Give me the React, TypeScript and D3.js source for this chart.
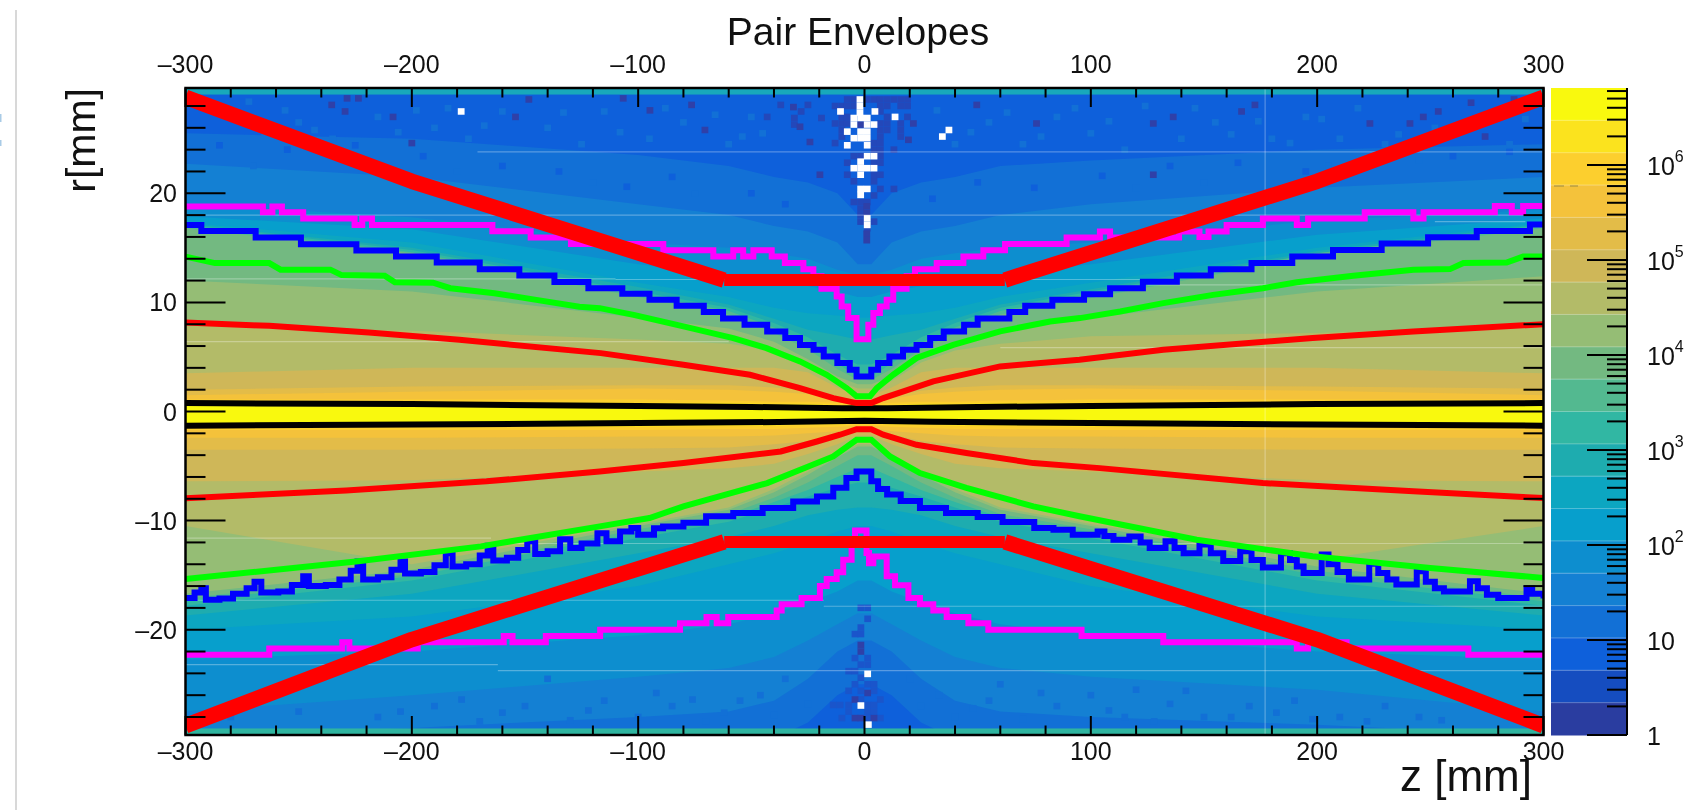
import React from "react";
import * as d3 from "d3";

// palette, top of the colour bar first
const paletteColors = ["#f9f90e","#fbe31e","#fccf2e","#f4c23b","#e3bc48","#cfb758","#b3bb68","#95bd75","#73b981","#53b990","#31b7a3","#1eacaf","#0ca6c1","#079fcc","#0d8ecf","#1480d3","#1270d6","#0e60db","#154dc0","#2a3da0"];

// z positions at which the colour band limits were read
const knotZ = [-300,-200,-100,-60,-40,-25,-12,-3,3,12,25,40,60,100,200,300];

// upper (r>0) limit of each colour band, level numbers follow paletteColors (1-based)
const up17 = [25.5,25,23.5,22.5,21.5,21,20,18,18,20,21,21.5,22.5,23,24,24.5];
const up16 = [22.7,21.5,19,18,17,16.5,15.5,13.5,13.5,15.5,16.5,17,18,19,20.5,21.5];
const up15 = [19,17.8,15.5,15,14.5,14,13,12.5,12.5,13,14,14.5,15,15.5,17.5,18.5];
const up14 = [17.9,16.7,13.5,12.5,12,11.5,11,10.5,10.5,11,11.5,12,12.5,13.5,16.2,17.7];
const up13 = [17.3,15.5,11.8,10.5,9.5,9,8.8,8.6,8.6,8.8,9,9.5,10.5,11.8,15,17.3];
const up12 = [17.2,15,11.4,9.8,8.5,7.5,7,6.6,6.6,7,7.5,8.5,9.8,11.2,14.7,17.2];
const up11 = [17.1,14.8,11,9.5,8.1,6.8,5.2,4.3,4.3,5.2,6.8,8.1,9.5,11,14.5,17.1];
const up10 = [17,14.6,10.8,9.2,7.7,6.3,4.4,3.2,3.2,4.4,6.3,7.7,9.2,10.8,14.5,17];
const up9 = [16.8,14.5,10.5,8.9,7.2,5.7,3.9,2.9,2.9,3.9,5.7,7.2,8.9,10.4,14.3,16.8];
const up8 = [12,11,8.6,7.6,6.4,4.8,3.2,2.5,2.5,3.2,4.8,6.4,7.6,8.6,11,12.4];
const up7 = [7.9,7.4,6.6,6.2,5.6,4.5,2.8,2.1,2.1,2.8,4.5,5.6,6.2,6.9,7.2,7.9];
const up6 = [3.5,4,4,4,4,3.6,2.2,1.5,1.5,2.2,3.6,4,4,4,4,3.5];
const up5 = [2,2.3,2.4,2.4,2.2,1.9,1.4,1.1,1.1,1.4,1.9,2.2,2.4,2.4,2.3,2.1];
const up4 = [1.5,1.8,2.1,2,1.8,1.6,1.2,1,1,1.2,1.6,1.8,2,2.1,1.9,1.5];
const up3 = [1.1,1.1,1.1,1,0.9,0.9,0.8,0.7,0.7,0.8,0.9,0.9,1,1.1,1.1,1.1];
const up2 = [0.9,0.9,0.8,0.8,0.7,0.7,0.6,0.5,0.5,0.6,0.7,0.7,0.8,0.8,0.9,0.9];
const up1 = [0.7,0.7,0.6,0.6,0.5,0.4,0.3,0.2,0.2,0.3,0.4,0.5,0.6,0.6,0.7,0.7];

// lower (r<0) limit of each colour band
const lo17 = [-30,-30,-30,-30,-30,-28.5,-26,-25,-25,-26,-28.5,-30,-30,-30,-30,-30];
const lo16 = [-30,-29,-28,-27.5,-26.5,-24.5,-22,-21,-21,-22,-24.5,-26.5,-27.5,-28,-28.7,-29.7];
const lo15 = [-27.5,-26,-24.3,-23.5,-22.5,-21,-19.5,-18.5,-18.5,-19.5,-21,-22.5,-23.5,-24.3,-25.5,-27.5];
const lo14 = [-22.7,-22,-20.5,-19.5,-18.5,-17.5,-16.5,-15.5,-15.5,-16.5,-17.5,-18.5,-19.5,-20.5,-22,-22.7];
const lo13 = [-20,-18.8,-16,-14,-13,-12,-11,-10.5,-10.5,-11,-12,-13,-14,-16,-18.8,-20];
const lo12 = [-18.7,-16.7,-13,-11.5,-10.5,-9.5,-9,-8.8,-8.8,-9,-9.5,-10.5,-11.5,-13,-16.7,-18.7];
const lo11 = [-17.8,-15.5,-11.6,-10.1,-8.8,-7.8,-7,-6.5,-6.5,-7,-7.8,-8.8,-10.1,-11.6,-15.5,-17.8];
const lo10 = [-17.4,-15.1,-11.1,-9.7,-8.3,-7.2,-6,-5.2,-5.2,-6,-7.2,-8.3,-9.7,-11.1,-15,-17.4];
const lo9 = [-17.1,-14.9,-10.8,-9.4,-7.9,-6.5,-5,-4,-4,-5,-6.5,-7.9,-9.4,-10.8,-14.6,-17.1];
const lo8 = [-16.7,-14.5,-10.5,-9,-7.4,-5.8,-4.2,-3.2,-3.2,-4.2,-5.8,-7.4,-9,-10.5,-14.2,-16.7];
const lo7 = [-10.5,-14,-10.3,-8.8,-7.1,-5.5,-3.9,-3,-3,-3.9,-5.5,-7.1,-8.8,-10.3,-13.6,-10.5];
const lo6 = [-6.4,-6.3,-5.5,-5.2,-4.8,-3.9,-3,-2.2,-2.2,-3,-3.9,-4.8,-5.2,-5.5,-6.3,-6.4];
const lo5 = [-3.5,-3.5,-3.4,-3.3,-3,-2.7,-2.1,-1.8,-1.8,-2.1,-2.7,-3,-3.3,-3.4,-3.5,-3.5];
const lo4 = [-2.4,-2.4,-2.3,-2.3,-2.2,-2,-1.8,-1.5,-1.5,-1.8,-2,-2.2,-2.3,-2.3,-2.4,-2.4];
const lo3 = [-1.7,-1.7,-1.7,-1.6,-1.6,-1.5,-1.4,-1.3,-1.3,-1.4,-1.5,-1.6,-1.6,-1.7,-1.7,-1.7];
const lo2 = [-1.4,-1.4,-1.4,-1.3,-1.3,-1.2,-1.2,-1.1,-1.1,-1.2,-1.2,-1.3,-1.3,-1.4,-1.4,-1.4];
const lo1 = [-1.1,-1.1,-1,-1,-1,-0.9,-0.9,-0.8,-0.8,-0.9,-0.9,-1,-1,-1,-1.1,-1.1];

// sparse cells
const whiteCells: [number, number][] = [[-178.2,27.5],[-10.6,27.5],[4.6,27.5],[13.5,27],[-2,28.6],[-2,28],[-2,27.4],[-4.7,26.9],[-1.7,26.9],[1.2,26.9],[-4.7,26.3],[1.2,26.3],[4.2,26.3],[-7.6,25.65],[-1.7,25.65],[1.2,25.65],[-4.7,25.05],[-1.7,25.05],[1.2,25.05],[-7.6,24.4],[1.2,24.4],[37.3,25.8],[34.4,25.2],[1.2,23.4],[4.2,23.4],[-1.7,22.9],[-4.7,22.3],[-1.7,22.3],[1.2,22.3],[4.2,22.3],[-1.7,21.7],[-1.7,20.4],[1.2,20.4],[-1.7,19.85],[1.2,17.7],[1.2,17.1],[1.4,-24.05],[-1.6,-26.95],[1.7,-28.7]];
const darkestCells: [number, number][] = [[-28.5,26.1],[-31.4,27.9],[-24.1,24.7],[-19.7,21.7],[-70.5,25.8],[19.4,24.9],[21.6,26.4],[76,26.4],[49.6,28.1],[-106.6,28.7],[-94.8,27.6],[-76.4,28.1],[1,18.8],[1,18.2],[1,16.3],[1,15.7],[-1.7,26.3],[136.4,27],[127.6,26.4],[166.6,27.5],[172.5,28.1],[253.5,27.5],[223.3,26.4],[241,26.4],[274.2,25.2],[127.6,21.7],[246.9,27],[-235.4,28.1],[-229.5,27.5],[-228.6,28.7],[-223.6,28.7],[-208.3,27],[-200,24.6],[-154.2,27],[-148.3,28.6],[-1.6,-22],[-1.6,-21.4],[1.4,-25.8],[-4.2,-26.4],[-4.2,-28.1],[-1.6,-28.1],[4.2,-28.1],[268,28.3],[287,28.6]];
const darkTopCells: [number, number][] = [[-7.6,28.6],[-4.7,28.6],[1.2,28.6],[4.2,28.6],[7,28.6],[10,28.6],[13,28.6],[16,28.6],[19,28.6],[-13,28],[-10,28],[-7.6,28],[-4.7,28],[7,28],[10,28],[16,28],[19,28],[-10,27],[-7.6,27],[7,27.5],[10,27],[16,26.4],[19,27],[-13,26.4],[-10,26.4],[-7.6,26.4],[7,26.4],[10,26.4],[-10,25.8],[7,25.8],[10,25.8],[16,25.8],[-10,25.2],[7,25.2],[16,25.2],[-13,24.6],[4.2,24.6],[7,24.6],[13,24],[4.2,24],[7,24],[-4.7,23.4],[-1.7,23.4],[7,23.4],[-7.6,22.8],[4.2,22.8],[7,22.8],[-7.6,21.7],[4.2,21.7],[7,21.7],[-4.7,21.1],[4.2,21.1],[7,20.4],[13,20.4],[4.2,19.8],[-4.7,19.2],[-1.7,19.2],[1.2,19.2],[-1.7,18.6],[-1.7,18],[-1.7,17.4],[4.2,17.4],[1.2,16.8],[-31,26.9],[-31,26.3],[-28,27.5],[-25,28.1],[-37,28.1],[-43,27],[-19,26.9]];
const dimLowerColumn: [number, number][] = [[-1.6,-18],[1.4,-18],[1.4,-19],[-1.6,-19.8],[-4.2,-20.4],[-1.6,-20.4],[1.4,-22.6],[-4.2,-22.6],[-1.6,-23.2],[1.4,-23.2],[-7,-23.8],[-4.2,-23.8],[-1.6,-24.4],[-4.2,-25],[1.4,-25],[4.2,-25],[-7,-25.6],[-1.6,-25.6],[4.2,-25.6],[7,-26.4],[1.4,-26.9],[-7,-26.9],[-7,-27.5],[1.4,-27.5],[4.2,-27.5],[-10,-28.1],[1.4,-28.1],[7,-28.1],[-1.6,-26.4],[4.2,-26.9],[-13.8,-26.9],[-10.8,-26.9]];
const lightTopCells: [number, number][] = [[-280,27],[-265,25.5],[-250,26.5],[-235,25],[-215,27],[-190,26],[-175,25],[-160,27.5],[-140,26],[-125,24.5],[-115,27.5],[-95,25],[-80,26.5],[-60,24.5],[-50,27],[-45,25.5],[40,24.5],[55,26.5],[70,24.5],[85,27],[100,25.5],[115,24],[140,25],[155,26.5],[180,25],[195,27],[210,25],[230,24.5],[260,25.5],[285,24.5],[120,20.5],[150,21],[205,22.5],[245,23],[-270,22.5],[-220,23.5],[-180,22],[-120,21],[-75,20],[-292,28],[-272,28.4],[-256,27.6],[-243,25.8],[-206,25.6],[-198,27.6],[-184,27.8],[-168,26.2],[-133,27.4],[-108,25.6],[-88,27.8],[-66,27.2],[-54,25.2],[32,27.6],[47,25.6],[63,27.4],[78,25.2],[93,27.8],[108,26.6],[124,28],[146,27.8],[162,25.4],[174,26.6],[188,24.6],[202,26.8],[218,27.8],[236,25.4],[252,26],[270,26.6],[292,26.8]];
const greyerTopCells: [number, number][] = [[-255,24],[-225,24.4],[-195,23.4],[-160,22.5],[-135,22],[-105,20.6],[-85,21.5],[-50,20],[-35,19],[30,19.5],[50,21],[75,20.5],[105,21.6],[135,22.5],[165,22.8],[195,22],[225,23],[260,23.4],[285,23.8],[-285,24.4]];
const darkBottomCells: [number, number][] = [[-280,-28],[-250,-27.5],[-215,-28],[-190,-27],[-170,-28.4],[-150,-27],[-130,-28.3],[-115,-26.5],[-100,-28],[-85,-27],[-70,-28.4],[-55,-26.5],[-40,-27.8],[-25,-26.8],[25,-27],[40,-28],[55,-26.5],[70,-28.2],[85,-27],[100,-26],[115,-28],[135,-26.8],[150,-28],[170,-27],[190,-26.5],[210,-28],[230,-27],[255,-28.3],[-140,-24.5],[-35,-24.5],[20,-24.5],[60,-25],[120,-25.5],[-205,-27.5],[-178,-26.4],[-160,-27.6],[-122,-27.4],[-92,-25.8],[-76,-26.4],[-62,-27.6],[-46,-26],[33,-26],[48,-27.2],[78,-25.8],[108,-27.4],[128,-28.4],[142,-25.6],[162,-28],[182,-27.6],[198,-28.2],[222,-28.4],[245,-28]];

// upper and lower edges of the teal rows at the frame
const topRowEdge = [29.05];
const bottomRowEdge = [-29.05];

// thin pale seams in the picture: [z start, z end, r]
const hSeams: [number, number, number][] = [[-171,300,23.8],[-300,300,18],[252,292,17.4],[-300,-110,12.15],[-110,125,12.1],[125,300,11.6],[-300,-60,6.4],[60,300,5.85],[-300,-165,-11.6],[-165,300,-12.1],[-300,-18,-17.3],[-18,300,-17.85],[-300,-162,-23.2],[-162,300,-23.75]];
const vSeams = [177];

const thickRedUpper: [number, number][] = [[-300,28.8],[-200,21.1],[-62,12.05],[62,12.05],[200,21.1],[300,28.8]];
const thickRedLower: [number, number][] = [[-300,-28.8],[-200,-20.9],[-62,-11.95],[62,-11.95],[200,-20.9],[300,-28.8]];

const blueUpper: [number, number][] = [[-300,17.1],[-293,16.55],[-269,15.94],[-249,15.33],[-224.5,14.75],[-207,14.2],[-189,13.65],[-170,13.04],[-152.5,12.46],[-137,11.88],[-122,11.3],[-107,10.79],[-95,10.24],[-83,9.69],[-71,9.11],[-62.5,8.53],[-53,7.95],[-43,7.34],[-35,6.73],[-28.5,6.1],[-22.5,5.66],[-18,5.05],[-12,4.44],[-6.5,3.83],[-3.5,3.2],[3,3.83],[6,4.44],[11,5.05],[17,5.66],[23,6.1],[29,6.73],[35,7.34],[44,7.95],[50,8.53],[64,9.11],[71,9.69],[83,10.24],[97,10.75],[108.5,11.3],[123,11.9],[138,12.46],[153,13.04],[171,13.62],[189,14.2],[207,14.8],[228.5,15.4],[249,15.97],[270.5,16.55],[294,17.13],[300,17.13]];
const blueLower: [number, number][] = [[-300,-17.1],[-296,-16.6],[-293,-16.2],[-291,-17.25],[-285,-17.15],[-279,-16.7],[-273,-16.2],[-269.5,-15.6],[-266.5,-16.6],[-259,-16.5],[-253,-15.9],[-248,-15.1],[-245.5,-16],[-238,-15.9],[-232,-15.4],[-227,-14.6],[-224,-13.75],[-221.5,-15.4],[-215,-15.2],[-209,-14.5],[-205,-13.75],[-203,-14.85],[-196,-14.7],[-190,-14.1],[-185,-13],[-182,-14.2],[-176,-14],[-170,-13.2],[-166.5,-12.3],[-164,-13.65],[-158,-13.4],[-153,-12.7],[-149,-11.9],[-145.5,-13.05],[-140,-12.8],[-134.5,-11.7],[-130,-12.5],[-125,-12.1],[-118,-11.15],[-114,-11.9],[-108,-11],[-103,-10.68],[-100,-11.29],[-93,-10.7],[-89,-10.53],[-80,-10.2],[-70,-9.6],[-58,-9.3],[-45,-8.85],[-31.5,-8.24],[-21,-7.78],[-13.8,-7],[-8,-6.1],[-3.5,-5.5],[3,-6.4],[6,-7.1],[10,-7.6],[16,-8.2],[24.5,-8.85],[36,-9.3],[50,-9.67],[61,-10.13],[75,-10.68],[83.5,-10.83],[92,-11.29],[97,-11.29],[103,-11],[106,-11.4],[110,-11.75],[117,-11.45],[122,-12],[126,-12.5],[133,-11.9],[137,-12.5],[141,-13],[148,-12.2],[153,-13],[158.5,-13.7],[166,-12.8],[171,-13.6],[176,-14.3],[184,-13],[188,-13.6],[191,-14.2],[194,-14.8],[202,-13.1],[205,-14],[209,-14.7],[214,-15.4],[223,-13.95],[227,-14.8],[231,-15.4],[235,-15.85],[244,-14.65],[248,-15.6],[252,-16.2],[256,-16.5],[267.5,-15.55],[271,-16.2],[275,-16.8],[280,-17.1],[292.5,-16.2],[295,-16.7],[300,-17.15]];

const magentaUpper: [number, number][] = [[-300,18.78],[-265.8,18.26],[-261.6,18.78],[-257.4,18.26],[-248,17.68],[-225.3,17.1],[-221.9,17.68],[-217.6,17.1],[-164.4,16.52],[-147.5,15.94],[-129.7,15.36],[-88.9,14.78],[-66.8,14.2],[-58,14.78],[-53.6,14.2],[-49.1,14.78],[-41,14.2],[-35.2,13.62],[-27,13.04],[-22.6,12.4],[-19,11.24],[-12.3,10.54],[-10.1,9.63],[-7.2,8.56],[-3.5,6.63],[1.7,7.95],[3.9,9.02],[6.8,9.63],[9.8,10.24],[12.7,11.24],[18.6,12.4],[22.3,13.04],[31.9,13.62],[43.7,14.2],[52.5,14.78],[62.1,15.36],[89.3,15.94],[104,16.5],[108.5,15.94],[139,16.5],[148,16],[152,16.5],[160,17.1],[176,17.68],[191,17.1],[196,17.68],[221,18.26],[242.5,17.68],[247,18.26],[278.5,18.84],[286,18.26],[291,18.84],[300,18.84]];
const magentaLower: [number, number][] = [[-300,-22.3],[-263,-21.73],[-230.7,-21.15],[-227.6,-21.73],[-197.4,-21.15],[-159.4,-20.57],[-155.5,-21.15],[-140.8,-20.57],[-116.8,-20],[-81.5,-19.4],[-69.8,-18.83],[-65.3,-19.4],[-60.2,-18.83],[-38.8,-18.25],[-36.6,-17.67],[-27.8,-17.09],[-19.7,-16],[-16.7,-15.35],[-12.3,-14.74],[-9.4,-13.58],[-5.7,-12.2],[-4.2,-10.9],[0.9,-12.97],[2,-13.9],[3.9,-13.3],[9.8,-15.1],[13.5,-15.93],[19.4,-17.09],[24.5,-17.67],[30.4,-18.25],[36.3,-18.83],[45.9,-19.4],[54.7,-20],[95.9,-20.57],[132,-21.15],[191,-21.73],[196,-21.15],[213,-21.73],[266.8,-22.3],[300,-22.3]];

const greenUpper: [number, number][] = [[-300,14.2],[-287,13.6],[-263,13.6],[-258,13],[-236,13],[-231,12.5],[-212,12.45],[-207.5,11.85],[-190.6,11.8],[-183,11.3],[-163.5,10.84],[-145,10.23],[-126,9.6],[-117,9.47],[-102,8.86],[-80,7.8],[-58,6.73],[-43.3,5.81],[-28.5,4.59],[-16.7,3.37],[-7.9,2.15],[-3.5,1.39],[2.4,1.39],[5.4,2.15],[12.7,3.37],[23,4.9],[39.2,6.1],[59.9,7.34],[82,8.25],[95.2,8.56],[113,9.17],[132,9.93],[154,10.69],[176,11.3],[191,11.85],[216,12.44],[242.5,13],[258.7,13.05],[264.6,13.6],[283.7,13.65],[291,14.2],[300,14.2]];
const greenLower: [number, number][] = [[-300,-15.35],[-223.7,-13.73],[-169.5,-12.36],[-117,-10.53],[-95,-9.76],[-80,-8.7],[-43,-6.56],[-13.8,-4.12],[-3.5,-2.6],[3,-2.6],[11.3,-4.12],[24.5,-5.64],[45,-7],[74.6,-8.7],[95,-9.6],[146.8,-11.75],[198,-13.27],[250,-14.34],[300,-15.26]];

const redUpper: [number, number][] = [[-300,8.16],[-263,7.85],[-219,7.24],[-179,6.57],[-116.5,5.35],[-80,4.29],[-50.6,3.37],[-28.5,2.15],[-13.8,1.23],[-3.5,0.77],[3,0.77],[8.3,1.23],[30.4,2.76],[59.9,4.13],[95,4.74],[132,5.66],[198,6.73],[242.5,7.34],[300,8]];
const redLower: [number, number][] = [[-300,-7.96],[-229,-7.23],[-167,-6.4],[-117,-5.5],[-80,-4.73],[-37,-3.66],[-21,-2.75],[-10.8,-2.13],[-3.5,-1.62],[3,-1.62],[8.3,-2.13],[23,-3.05],[45,-3.8],[74.6,-4.73],[104,-5.19],[176,-6.56],[242.5,-7.3],[300,-7.93]];

const blackUpper: [number, number][] = [[-300,0.77],[-200,0.68],[-100,0.5],[-50,0.42],[-10,0.3],[10,0.3],[50,0.42],[100,0.5],[200,0.68],[300,0.77]];
const blackLower: [number, number][] = [[-300,-1.3],[-200,-1.2],[-100,-1.06],[-30,-0.95],[0,-0.85],[30,-0.95],[100,-1.06],[200,-1.2],[300,-1.3]];

const zTickLabels = [-300,-200,-100,0,100,200,300];
const rTickLabels = [-20,-10,0,10,20];
const barDecades = [1,10,100,1000,10000,100000,1000000];
const barMinorMantissas = [2,3,4,5,6,7,8,9];
const barMax = 6.46e6;

const upperLimits = [up1,up2,up3,up4,up5,up6,up7,up8,up9,up10,up11,up12,up13,up14,up15,up16,up17];
const lowerLimits = [lo1,lo2,lo3,lo4,lo5,lo6,lo7,lo8,lo9,lo10,lo11,lo12,lo13,lo14,lo15,lo16,lo17];

const FONT = "'Liberation Sans', Arial, sans-serif";
const frame = { left: 185.5, right: 1543.5, top: 88, bottom: 735 };
const bar = { left: 1551, right: 1627 };
const binZ = 3, binR = 0.6;

const zs = d3.scaleLinear().domain([-300, 300]).range([frame.left, frame.right]);
const rs = d3.scaleLinear().domain([-29.65, 29.65]).range([frame.bottom, frame.top]);
const cs = d3.scaleLog().domain([1, barMax]).range([frame.bottom, frame.top]);

const stepLine = d3.line<[number, number]>().x(d => zs(d[0])).y(d => rs(d[1])).curve(d3.curveStepAfter);
const smoothLine = d3.line<[number, number]>().x(d => zs(d[0])).y(d => rs(d[1]));

const minus = (v: number) => (v < 0 ? "\u2013" + Math.abs(v) : String(v));

function Cells({ cells, fill }: { cells: [number, number][]; fill: string }) {
  return (
    <g fill={fill}>
      {cells.map(([z, r], i) => (
        <rect key={i} x={zs(z - binZ / 2)} y={rs(r + binR / 2)} width={zs(binZ) - zs(0)} height={rs(0) - rs(binR)} />
      ))}
    </g>
  );
}

function ThickRed({ pts }: { pts: [number, number][] }) {
  return (
    <g fill="none" stroke="#ff0000" strokeLinejoin="round">
      <path d={smoothLine(pts.slice(0, 3))!} strokeWidth={15.5} />
      <path d={smoothLine(pts.slice(3))!} strokeWidth={15.5} />
      <path d={smoothLine(pts.slice(2, 4))!} strokeWidth={12} />
    </g>
  );
}

export default function App() {
  const idx = knotZ.map((_, i) => i);
  const band = (k: number) =>
    d3.area<number>().x(i => zs(knotZ[i])).y0(i => rs(lowerLimits[k][i])).y1(i => rs(upperLimits[k][i]))(idx) as string;
  const levels = d3.range(upperLimits.length - 1, -1, -1);
  const zTicks = d3.range(-300, 301, 20);
  const rTicks = d3.range(-28, 29, 2);
  const bandH = (frame.bottom - frame.top) / paletteColors.length;
  const lineW = 6;
  return (
    <svg width={1701} height={810} style={{ position: "absolute", left: 0, top: 0, display: "block", filter: "blur(0.6px)" }} fontFamily={FONT}>
      <rect width={1701} height={810} fill="#fff" />
      <line x1={16} x2={16} y1={10} y2={810} stroke="#d8d8d8" strokeWidth={2} />
      <rect x={0} y={114} width={1.5} height={8} fill="#a9cbe6" />
      <rect x={0} y={140} width={1.5} height={6} fill="#a9cbe6" />
      <defs>
        <clipPath id="plot"><rect x={frame.left} y={frame.top} width={frame.right - frame.left} height={frame.bottom - frame.top} /></clipPath>
      </defs>
      <g clipPath="url(#plot)">
        <rect x={frame.left} y={frame.top} width={frame.right - frame.left} height={frame.bottom - frame.top} fill={paletteColors[17]} />
        {levels.map(k => <path key={k} d={band(k)} fill={paletteColors[k]} />)}
        <rect x={frame.left} y={frame.top} width={frame.right - frame.left} height={rs(topRowEdge[0]) - frame.top} fill="#18a9bb" />
        <rect x={frame.left} y={rs(bottomRowEdge[0])} width={frame.right - frame.left} height={frame.bottom - rs(bottomRowEdge[0])} fill="#2fb5a0" />
        <Cells cells={lightTopCells} fill={paletteColors[16]} />
        <Cells cells={greyerTopCells} fill={paletteColors[17]} />
        <Cells cells={darkBottomCells} fill={paletteColors[16]} />
        <Cells cells={dimLowerColumn} fill="#1a55cb" />
        <Cells cells={darkTopCells} fill="#2348ba" />
        <Cells cells={darkestCells} fill="#2f40a8" />
        <Cells cells={whiteCells} fill="#ffffff" />
        {hSeams.map(([a, b, r], i) => (
          <line key={i} x1={zs(a)} x2={zs(b)} y1={rs(r)} y2={rs(r)} stroke="#ffffff" strokeOpacity={0.3} strokeWidth={1.2} />
        ))}
        {vSeams.map((z, i) => (
          <line key={i} x1={zs(z)} x2={zs(z)} y1={frame.top} y2={frame.bottom} stroke="#ffffff" strokeOpacity={0.3} strokeWidth={1.2} />
        ))}
        <path d={smoothLine(blackUpper)!} fill="none" stroke="#000" strokeWidth={lineW} />
        <path d={smoothLine(blackLower)!} fill="none" stroke="#000" strokeWidth={lineW} />
        <path d={stepLine(magentaUpper)!} fill="none" stroke="#ff00ff" strokeWidth={lineW} />
        <path d={stepLine(magentaLower)!} fill="none" stroke="#ff00ff" strokeWidth={lineW} />
        <path d={stepLine(blueUpper)!} fill="none" stroke="#0000ff" strokeWidth={lineW} />
        <path d={stepLine(blueLower)!} fill="none" stroke="#0000ff" strokeWidth={lineW} />
        <path d={smoothLine(greenUpper)!} fill="none" stroke="#00ff00" strokeWidth={lineW} />
        <path d={smoothLine(greenLower)!} fill="none" stroke="#00ff00" strokeWidth={lineW} />
        <path d={smoothLine(redUpper)!} fill="none" stroke="#ff0000" strokeWidth={lineW} />
        <path d={smoothLine(redLower)!} fill="none" stroke="#ff0000" strokeWidth={lineW} />
        <ThickRed pts={thickRedUpper} />
        <ThickRed pts={thickRedLower} />
      </g>
      <g stroke="#000" strokeWidth={2}>
        {zTicks.map(z => {
          const len = z % 100 === 0 ? 19 : 9.5;
          return (
            <g key={z}>
              <line x1={zs(z)} x2={zs(z)} y1={frame.top} y2={frame.top + len} />
              <line x1={zs(z)} x2={zs(z)} y1={frame.bottom} y2={frame.bottom - len} />
            </g>
          );
        })}
        {rTicks.map(r => {
          const len = r % 10 === 0 ? 40 : 20;
          return (
            <g key={r}>
              <line x1={frame.left} x2={frame.left + len} y1={rs(r)} y2={rs(r)} />
              <line x1={frame.right} x2={frame.right - len} y1={rs(r)} y2={rs(r)} />
            </g>
          );
        })}
      </g>
      <rect x={frame.left} y={frame.top} width={frame.right - frame.left} height={frame.bottom - frame.top} fill="none" stroke="#000" strokeWidth={2.5} />

      {paletteColors.map((c, i) => (
        <rect key={c} x={bar.left} y={frame.top + i * bandH} width={bar.right - bar.left} height={bandH + 0.5} fill={c} />
      ))}
      {paletteColors.slice(1).map((c, i) => (
        <line key={c} x1={bar.left} x2={bar.right} y1={frame.top + (i + 1) * bandH} y2={frame.top + (i + 1) * bandH} stroke="#fff" strokeOpacity={0.3} />
      ))}
      <line x1={1554} x2={1578} y1={186} y2={186} stroke="#9a8a40" strokeWidth={1} strokeDasharray="10 6" />
      <g stroke="#000" strokeWidth={2}>
        {barDecades.map(d => (
          <g key={d}>
            <line x1={bar.right} x2={bar.right - 40} y1={cs(d)} y2={cs(d)} />
            {barMinorMantissas.map(m => m * d <= barMax ? (
              <line key={m} x1={bar.right} x2={bar.right - 20} y1={cs(m * d)} y2={cs(m * d)} />
            ) : null)}
          </g>
        ))}
        <line x1={bar.right} x2={bar.right} y1={frame.top} y2={frame.bottom} />
      </g>

      <g fontSize={25} fill="#111" textAnchor="middle">
        {zTickLabels.map(z => (
          <g key={z}>
            <text x={zs(z)} y={73}>{minus(z)}</text>
            <text x={zs(z)} y={760}>{minus(z)}</text>
          </g>
        ))}
      </g>
      <g fontSize={25} fill="#111" textAnchor="end">
        {rTickLabels.map(r => <text key={r} x={177} y={rs(r) + 9}>{minus(r)}</text>)}
      </g>
      <g fontSize={25} fill="#111">
        {barDecades.map((d, i) => (
          <text key={d} x={1647} y={cs(d) + 10}>
            {i === 0 ? "1" : "10"}
            {i > 1 ? <tspan fontSize={16} dy={-13}>{i}</tspan> : null}
          </text>
        ))}
      </g>
      <text x={858} y={45} fontSize={39} fill="#111" textAnchor="middle">Pair Envelopes</text>
      <text x={1532} y={791} fontSize={44} fill="#111" textAnchor="end">z [mm]</text>
      <text transform="translate(95,88) rotate(-90)" fontSize={41} fill="#111" textAnchor="end">r[mm]</text>
    </svg>
  );
}
